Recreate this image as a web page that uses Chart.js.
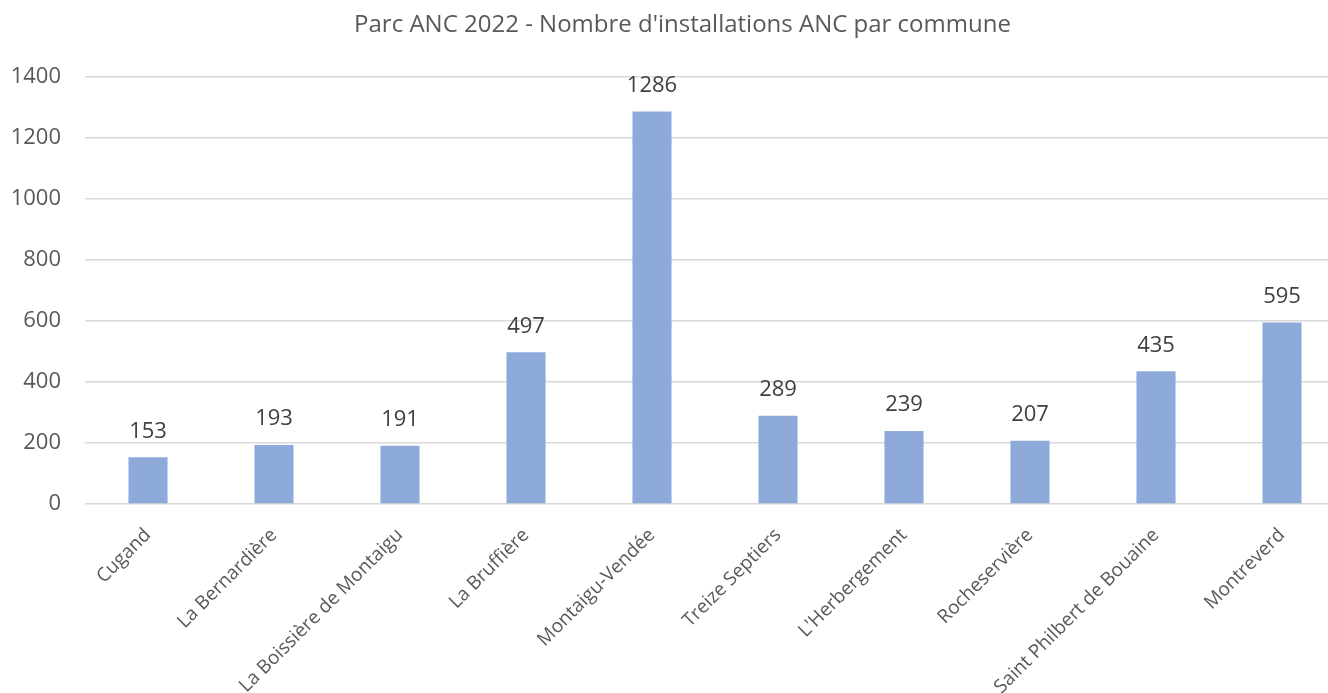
<!DOCTYPE html>
<html>
<head>
<meta charset="utf-8">
<script src="https://cdn.jsdelivr.net/npm/chart.js@4/dist/chart.umd.min.js"></script>
<style>
  html, body { margin: 0; padding: 0; background: #fff; overflow: hidden; }
  #wrap { width: 1345px; height: 693px; position: relative; }
</style>
</head>
<body>
<div id="wrap"><canvas id="anc-chart"></canvas></div>
<script>
const communes = ['Cugand', 'La Bernardière', 'La Boissière de Montaigu', 'La Bruffière', 'Montaigu-Vendée',
  'Treize Septiers', "L'Herbergement", 'Rocheservière', 'Saint Philbert de Bouaine', 'Montreverd'];
const installations = [153, 193, 191, 497, 1286, 289, 239, 207, 435, 595];
const yTicks = [0, 200, 400, 600, 800, 1000, 1200, 1400];

const FONT = "'Open Sans', sans-serif";

// draws the value above each bar
const valueLabels = {
  id: 'valueLabels',
  afterLayout(chart) {
    // the original title sits a little right of the canvas centre
    if (chart.titleBlock) chart.titleBlock.left += 20;
  },
  afterDatasetsDraw(chart) {
    const ctx = chart.ctx;
    const meta = chart.getDatasetMeta(0);
    ctx.save();
    ctx.font = '22px ' + FONT;
    ctx.fillStyle = '#404040';
    ctx.textAlign = 'center';
    ctx.textBaseline = 'middle';
    meta.data.forEach((bar, i) => {
      ctx.fillText(String(chart.data.datasets[0].data[i]), bar.x, bar.y - 26);
    });
    ctx.restore();
  }
};

const config = {
  type: 'bar',
  data: {
    labels: communes,
    datasets: [{
      data: installations,
      backgroundColor: '#8eaadb',
      barPercentage: 0.62,
      categoryPercentage: 0.5,
    }],
  },
  options: {
    responsive: true,
    maintainAspectRatio: false,
    animation: false,
    layout: { padding: 0 },
    plugins: {
      legend: { display: false },
      tooltip: { enabled: false },
      title: {
        display: true,
        text: "Parc ANC 2022 - Nombre d'installations ANC par commune",
        color: '#595959',
        font: { family: FONT, size: 24, weight: 'normal', lineHeight: 1.2 },
        padding: { top: 11, bottom: 37 },
      }
    },
    scales: {
      x: {
        grid: { display: false },
        border: { display: false },
        ticks: {
          color: '#595959',
          font: { family: FONT, size: 19 },
          minRotation: 45,
          maxRotation: 45,
          autoSkip: false,
          padding: 12,
        },
        afterFit(scale) { scale.height = 189; }
      },
      y: {
        min: 0,
        max: 1400,
        afterBuildTicks(scale) { scale.ticks = yTicks.map(v => ({ value: v })); },
        grid: { color: '#d9d9d9', lineWidth: 1.5, drawTicks: false },
        border: { display: false },
        ticks: {
          color: '#595959',
          font: { family: FONT, size: 22 },
          padding: 24,
          callback: (value) => String(value),
        },
        afterFit(scale) { scale.width = 85; }
      }
    }
  },
  plugins: [valueLabels]
};

new Chart(document.getElementById('anc-chart'), config);
</script>
</body>
</html>
